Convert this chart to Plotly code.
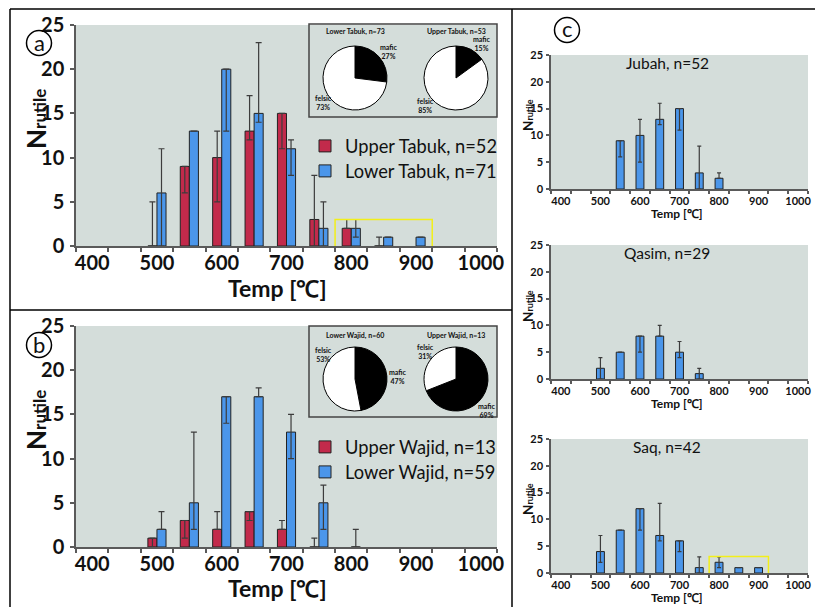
import plotly.graph_objects as go

W, H = 815, 607
FONT = "Lato"

# ---------------- data ----------------
temps = [400, 450, 500, 550, 600, 650, 700, 750, 800, 850, 900, 950, 1000]
tick_labels = ["400", "500", "600", "700", "800", "900", "1000"]
tick_label_vals = [400, 500, 600, 700, 800, 900, 1000]
cat_bounds = [375, 425, 475, 525, 575, 625, 675, 725, 775, 825, 875, 925, 975, 1025]

# panel a (None = no bar in that class)
upper_tabuk = [None, None, 0, 9, 10, 13, 15, 3, 2, 0, None, None, None]
upper_tabuk_plus = [0, 0, 5, 0, 3, 4, 0, 5, 1, 1, 0, 0, 0]
upper_tabuk_minus = [0, 0, 0, 3, 5, 1, 4, 3, 0, 0, 0, 0, 0]
lower_tabuk = [None, None, 6, 13, 20, 15, 11, 2, 2, 1, 1, None, None]
lower_tabuk_plus = [0, 0, 5, 0, 0, 8, 1, 3, 1, 0, 0, 0, 0]
lower_tabuk_minus = [0, 0, 6, 0, 7, 1, 3, 2, 1, 0, 0, 0, 0]

# panel b
upper_wajid = [None, None, 1, 3, 2, 4, 2, 0, None, None, None, None, None]
upper_wajid_plus = [0, 0, 0, 0, 2, 0, 1, 1, 0, 0, 0, 0, 0]
upper_wajid_minus = [0, 0, 1, 2, 0, 1, 0, 0, 0, 0, 0, 0, 0]
lower_wajid = [None, None, 2, 5, 17, 17, 13, 5, 0, None, None, None, None]
lower_wajid_plus = [0, 0, 2, 8, 0, 1, 2, 2, 2, 0, 0, 0, 0]
lower_wajid_minus = [0, 0, 0, 3, 3, 0, 3, 3, 0, 0, 0, 0, 0]

# panel c
jubah = [None, None, None, 9, 10, 13, 15, 3, 2, None, None, None, None]
jubah_plus = [0, 0, 0, 0, 3, 3, 0, 5, 1, 0, 0, 0, 0]
jubah_minus = [0, 0, 0, 3, 5, 1, 4, 3, 0, 0, 0, 0, 0]
qasim = [None, None, 2, 5, 8, 8, 5, 1, None, None, None, None, None]
qasim_plus = [0, 0, 2, 0, 0, 2, 2, 1, 0, 0, 0, 0, 0]
qasim_minus = [0, 0, 2, 0, 3, 0, 1, 1, 0, 0, 0, 0, 0]
saq = [None, None, 4, 8, 12, 7, 6, 1, 2, 1, 1, None, None]
saq_plus = [0, 0, 3, 0, 0, 6, 0, 2, 1, 0, 0, 0, 0]
saq_minus = [0, 0, 2, 0, 4, 1, 2, 1, 1, 0, 0, 0, 0]

# pies
pie_labels = ["mafic", "felsic"]
pie_lower_tabuk = [27, 73]
pie_upper_tabuk = [15, 85]
pie_lower_wajid = [47, 53]
pie_upper_wajid = [69, 31]

# ---------------- styles ----------------
RED = "#c22a4b"
BLUE = "#4b96ea"
BG = "#d4ddda"
AX = "#5a5a5a"
ERR = "#3c3c3c"


def px(x):
    return x / W


def py(y):
    return 1 - y / H


fig = go.Figure()


def bars(name, vals, plus, minus, color, xa, ya, width, offset, legend=None, showlegend=False, errw=3):
    fig.add_trace(go.Bar(
        x=temps, y=vals, name=name, xaxis=xa, yaxis=ya,
        width=width, offset=offset,
        marker=dict(color=color, line=dict(color="#222222", width=1)),
        error_y=dict(type="data", array=plus, arrayminus=minus, symmetric=False,
                     color=ERR, thickness=1.2, width=errw),
        showlegend=showlegend, legend=legend,
    ))


# panel a
bars("Upper Tabuk, n=52", upper_tabuk, upper_tabuk_plus, upper_tabuk_minus, RED, "x", "y", 14, -14, "legend", True)
bars("Lower Tabuk, n=71", lower_tabuk, lower_tabuk_plus, lower_tabuk_minus, BLUE, "x", "y", 14, 0, "legend2", True)
# panel b
bars("Upper Wajid, n=13", upper_wajid, upper_wajid_plus, upper_wajid_minus, RED, "x2", "y2", 14, -14, "legend3", True)
bars("Lower Wajid, n=59", lower_wajid, lower_wajid_plus, lower_wajid_minus, BLUE, "x2", "y2", 14, 0, "legend4", True)
# panel c
bars("Jubah", jubah, jubah_plus, jubah_minus, BLUE, "x3", "y3", 20, -10, errw=2)
bars("Qasim", qasim, qasim_plus, qasim_minus, BLUE, "x4", "y4", 20, -10, errw=2)
bars("Saq", saq, saq_plus, saq_minus, BLUE, "x5", "y5", 20, -10, errw=2)


def pie(vals, cx, cy, r=32):
    fig.add_trace(go.Pie(
        labels=pie_labels, values=vals, sort=False, direction="clockwise", rotation=0,
        marker=dict(colors=["#000000", "#ffffff"], line=dict(color="#000000", width=1)),
        textinfo="none", showlegend=False, hoverinfo="label+percent",
        domain=dict(x=[px(cx - r), px(cx + r)], y=[py(cy + r), py(cy - r)]),
    ))


pie(pie_lower_tabuk, 355, 78)
pie(pie_upper_tabuk, 456, 78)
pie(pie_lower_wajid, 355, 379)
pie(pie_upper_wajid, 456, 379)

# ---------------- axes ----------------
big_tick = dict(family=FONT, size=20, color="#111111", weight="bold")
small_tick = dict(family=FONT, size=11, color="#111111", weight="bold")


def xaxis(dom, anchor, font, ticklen, standoff):
    return dict(domain=dom, anchor=anchor, range=[375, 1025], tickmode="array",
                tickvals=tick_label_vals, ticktext=tick_labels, ticks="", showgrid=False,
                zeroline=False, showline=True, linecolor=AX, linewidth=1.5, tickfont=font,
                ticklabelstandoff=standoff, automargin=False,
                minor=dict(tickmode="array", tickvals=cat_bounds, ticks="outside",
                           ticklen=ticklen, tickcolor=AX, tickwidth=1.5, showgrid=False))


def xover(base, anchor, dom, ticklen):
    # overlay axis giving the inner half of the crossing category ticks
    return dict(overlaying=base, anchor=anchor, domain=dom, range=[375, 1025],
                showticklabels=False, ticks="", showgrid=False, zeroline=False,
                showline=False, automargin=False, tickmode="array", tickvals=tick_label_vals,
                minor=dict(tickmode="array", tickvals=cat_bounds, ticks="inside",
                           ticklen=ticklen, tickcolor=AX, tickwidth=1.5, showgrid=False))


def yaxis(dom, anchor, font, ticklen, standoff):
    return dict(domain=dom, anchor=anchor, range=[0, 25], tickmode="array",
                tickvals=[0, 5, 10, 15, 20, 25], ticks="outside", ticklen=ticklen,
                tickcolor=AX, tickwidth=1.5, showgrid=False, zeroline=False,
                showline=True, linecolor=AX, linewidth=1.5, tickfont=font,
                ticklabelstandoff=standoff, automargin=False)


xa_dom = [px(76), px(497)]
xc_dom = [px(551), px(808)]
fig.update_layout(
    xaxis=xaxis(xa_dom, "y", big_tick, 4, -2),
    yaxis=yaxis([py(246), py(25)], "x", big_tick, 4, 2),
    xaxis2=xaxis(xa_dom, "y2", big_tick, 4, -2),
    yaxis2=yaxis([py(547), py(326)], "x2", big_tick, 4, 2),
    xaxis3=xaxis(xc_dom, "y3", small_tick, 3, 1),
    yaxis3=yaxis([py(189), py(55)], "x3", small_tick, 3, 1),
    xaxis4=xaxis(xc_dom, "y4", small_tick, 3, 1),
    yaxis4=yaxis([py(379), py(245)], "x4", small_tick, 3, 1),
    xaxis5=xaxis(xc_dom, "y5", small_tick, 3, 1),
    yaxis5=yaxis([py(573), py(439)], "x5", small_tick, 3, 1),
    xaxis6=xover("x", "y", xa_dom, 4),
    xaxis7=xover("x2", "y2", xa_dom, 4),
    xaxis8=xover("x3", "y3", xc_dom, 3),
    xaxis9=xover("x4", "y4", xc_dom, 3),
    xaxis10=xover("x5", "y5", xc_dom, 3),
)

# ---------------- annotations ----------------
ann = []


def text(t, x, y, size, bold=False, angle=0, color="#111111", xanchor="center"):
    ann.append(dict(text=t, x=px(x), y=py(y), xref="paper", yref="paper", showarrow=False,
                    xanchor=xanchor, yanchor="middle", textangle=angle,
                    font=dict(family=FONT, size=size, color=color, weight="bold" if bold else "normal")))


# axis titles
text("Temp [℃]", 277, 288, 23, True)
text("Temp [℃]", 277, 588, 23, True)
text("N<span style='font-size:17px'>rutile</span>", 36, 119, 26, True, -90)
text("N<span style='font-size:17px'>rutile</span>", 36, 420, 26, True, -90)
for ty, ny in [(213, 115), (403, 306), (597, 499)]:
    text("Temp [℃]", 676, ty, 12, True)
    text("N<span style='font-size:9px'>rutile</span>", 528, ny, 13.5, True, -90)

# panel c titles
text("Jubah, n=52", 667, 63, 15.5)
text("Qasim, n=29", 667, 253, 15.5)
text("Saq, n=42", 667, 447, 15.5)

# pie titles and labels
text("Lower Tabuk, n=73", 355, 32, 7, True)
text("Upper Tabuk, n=53", 456, 32, 7, True)
text("mafic<br>27%", 389, 51, 7, True)
text("felsic<br>73%", 323, 103, 7, True)
text("mafic<br>15%", 482, 43, 7, True)
text("felsic<br>85%", 425, 105, 7, True)
text("Lower Wajid, n=60", 355, 335, 7, True)
text("Upper Wajid, n=13", 456, 335, 7, True)
text("felsic<br>53%", 323, 354, 7, True)
text("mafic<br>47%", 398, 376, 7, True)
text("felsic<br>31%", 425, 351, 7, True)
text("mafic<br>69%", 487, 410, 7, True)

# panel letters
text("a", 39, 42, 22)
text("b", 39, 344, 22)
text("c", 567, 29, 22)

# ---------------- shapes ----------------
shapes = []


def line(x0, y0, x1, y1, color="#000000", w=1.5):
    shapes.append(dict(type="line", xref="paper", yref="paper", x0=px(x0), y0=py(y0),
                       x1=px(x1), y1=py(y1), line=dict(color=color, width=w)))


line(10, 9, 815, 9)
line(10, 9, 10, 607)
line(10, 310, 512, 310)
line(512, 9, 512, 607)

for cx, cy in [(39, 43), (39, 345), (567, 30)]:
    shapes.append(dict(type="circle", xref="paper", yref="paper", x0=px(cx - 12.5), x1=px(cx + 12.5),
                       y0=py(cy + 12.5), y1=py(cy - 12.5), line=dict(color="#000000", width=1.5)))

# pie inset boxes
for y0, y1 in [(24, 117), (326, 417)]:
    shapes.append(dict(type="rect", xref="paper", yref="paper", x0=px(309), x1=px(497),
                       y0=py(y1), y1=py(y0), line=dict(color="#444444", width=1.5),
                       fillcolor="rgba(0,0,0,0)", layer="above"))

# yellow highlight boxes
shapes.append(dict(type="rect", xref="x", yref="y", x0=775, x1=925, y0=-0.5, y1=3,
                   line=dict(color="#f2ef1a", width=1.5), layer="above"))
shapes.append(dict(type="rect", xref="x5", yref="y5", x0=775, x1=925, y0=-1, y1=3.1,
                   line=dict(color="#f2ef1a", width=1.5), layer="above"))

leg_font = dict(family=FONT, size=18.3, color="#111111")


def legend_at(y):
    return dict(x=px(305), y=py(y), xanchor="left", yanchor="middle", bgcolor="rgba(0,0,0,0)",
                font=leg_font, borderwidth=0)


fig.update_layout(
    width=W, height=H, margin=dict(l=0, r=0, t=0, b=0, autoexpand=False),
    paper_bgcolor="#ffffff", plot_bgcolor=BG,
    barmode="group",
    annotations=ann, shapes=shapes,
    legend=legend_at(146), legend2=legend_at(171),
    legend3=legend_at(447), legend4=legend_at(472),
)

fig.write_html("out.html", config={"displayModeBar": False},
               post_script="document.body.style.margin='0px';")
